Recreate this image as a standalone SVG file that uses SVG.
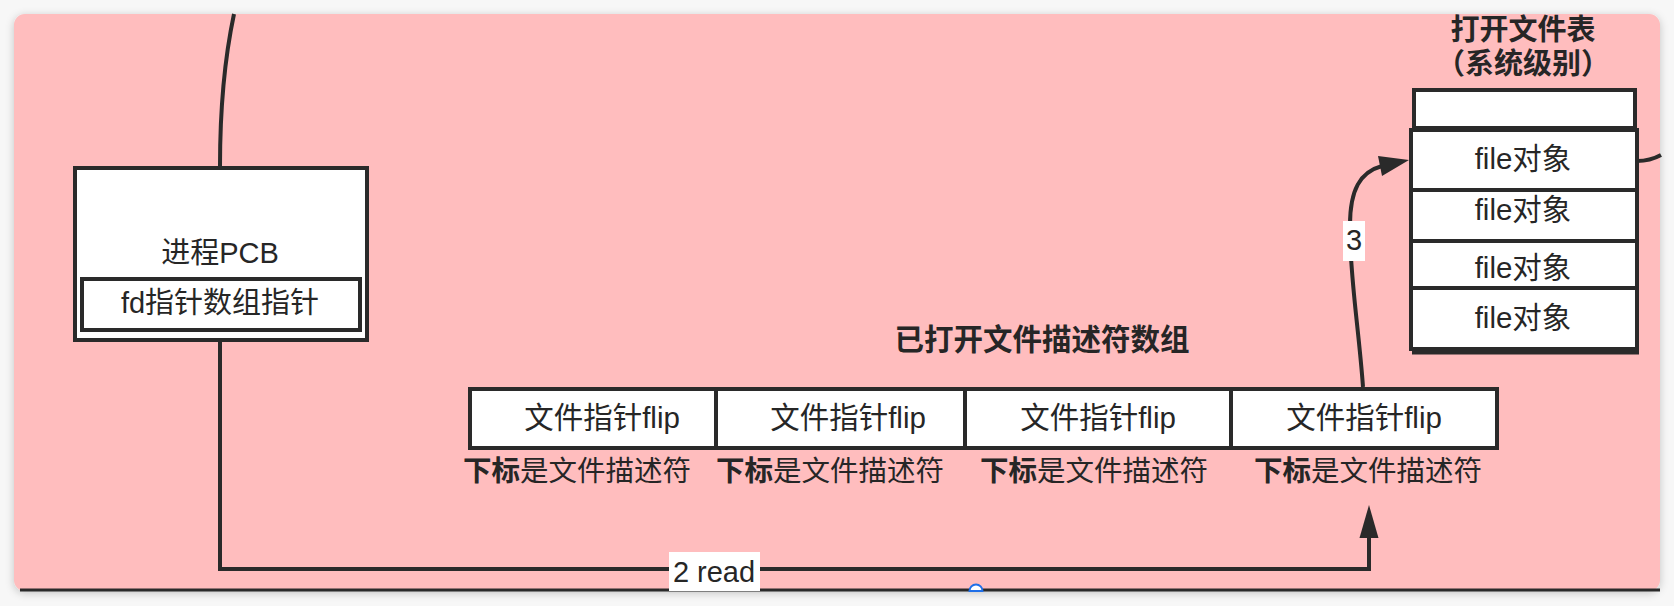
<svg xmlns="http://www.w3.org/2000/svg" width="1674" height="606" viewBox="0 0 1674 606">
<style>
text{font-family:"Liberation Sans","Noto Sans CJK SC",sans-serif;font-size:29px;fill:#262626}
.c{text-anchor:middle}
.b{font-weight:bold}
.t{font-size:29.5px}
.s{font-size:28.5px}
.box{fill:#fff;stroke:#2a2a2a;stroke-width:4}
.ln{fill:none;stroke:#2a2a2a;stroke-width:4}
.lbl{fill:#fff}
</style>
<defs>
<filter id="sh" x="-5%" y="-5%" width="110%" height="115%">
<feDropShadow dx="0" dy="2" stdDeviation="4" flood-color="#000" flood-opacity="0.22"/>
</filter>
</defs>
<rect x="0" y="0" width="1674" height="606" fill="#f7f7f7"/>
<g id="canvas">
<rect x="14" y="14" width="1646" height="577" rx="11" fill="#ffbdbe" filter="url(#sh)"/>
<line x1="20" y1="590" x2="1660" y2="590" stroke="#2a2a2a" stroke-width="3"/>
</g>
<g id="connectors">
<path class="ln" d="M234,14 Q220,80 220,166"/>
<path class="ln" d="M220,341 L220,569 L1369,569 L1369,535"/>
<polygon points="1369,505 1359.5,538 1378.5,538" fill="#2a2a2a"/>
<path class="ln" d="M1363,387 C1359,330 1349,270 1350,225 C1350,190 1360,172 1382,166"/>
<polygon points="1409,160 1378,156 1382,176" fill="#2a2a2a"/>
<path class="ln" d="M1637,161 Q1650,161 1661,155"/>
<rect class="lbl" x="1343" y="221" width="22" height="40"/>
<text class="c" x="1354" y="250">3</text>
<rect class="lbl" x="669" y="552" width="91" height="39"/>
<text class="c" x="714" y="582">2 read</text>
</g>
<g id="pcb">
<rect class="box" x="75" y="168" width="292" height="172"/>
<text class="c" x="220" y="263">进程PCB</text>
</g>
<g id="fd-ptr">
<rect class="box" x="82" y="279" width="278" height="51"/>
<text class="c" x="220" y="313">fd指针数组指针</text>
</g>
<g id="fd-array-title">
<text class="c b t" x="1042" y="350">已打开文件描述符数组</text>
</g>
<g id="flip1">
<rect class="box" x="470" y="389" width="246" height="59"/>
<text class="c t" x="602" y="428">文件指针flip</text>
<text class="c s" x="577" y="481"><tspan class="b">下标</tspan>是文件描述符</text>
</g>
<g id="flip2">
<rect class="box" x="716" y="389" width="249" height="59"/>
<text class="c t" x="848" y="428">文件指针flip</text>
<text class="c s" x="830" y="481"><tspan class="b">下标</tspan>是文件描述符</text>
</g>
<g id="flip3">
<rect class="box" x="965" y="389" width="266" height="59"/>
<text class="c t" x="1098" y="428">文件指针flip</text>
<text class="c s" x="1094" y="481"><tspan class="b">下标</tspan>是文件描述符</text>
</g>
<g id="flip4">
<rect class="box" x="1231" y="389" width="266" height="59"/>
<text class="c t" x="1364" y="428">文件指针flip</text>
<text class="c s" x="1368" y="481"><tspan class="b">下标</tspan>是文件描述符</text>
</g>
<g id="file-table">
<text class="c b" x="1523" y="40">打开文件表</text>
<text class="c b" x="1523" y="74" style="font-feature-settings:'halt'">（系统级别）</text>
<rect class="box" x="1414" y="90" width="221" height="38"/>
<rect class="box" x="1411" y="130" width="226" height="60"/>
<text class="c t" x="1523" y="169">file对象</text>
<rect class="box" x="1411" y="190" width="226" height="51"/>
<text class="c t" x="1523" y="220">file对象</text>
<rect class="box" x="1411" y="241" width="226" height="47"/>
<text class="c t" x="1523" y="278">file对象</text>
<rect class="box" x="1411" y="288" width="226" height="61"/>
<text class="c t" x="1523" y="328">file对象</text>
<line x1="1412" y1="352" x2="1639" y2="352" stroke="#2a2a2a" stroke-width="5"/>
</g>
<g id="handle">
<path d="M969.5,591 A6.5,6.5 0 0 1 982.5,591 Z" fill="#fff" stroke="#1f6fe8" stroke-width="2"/>
</g>
</svg>
